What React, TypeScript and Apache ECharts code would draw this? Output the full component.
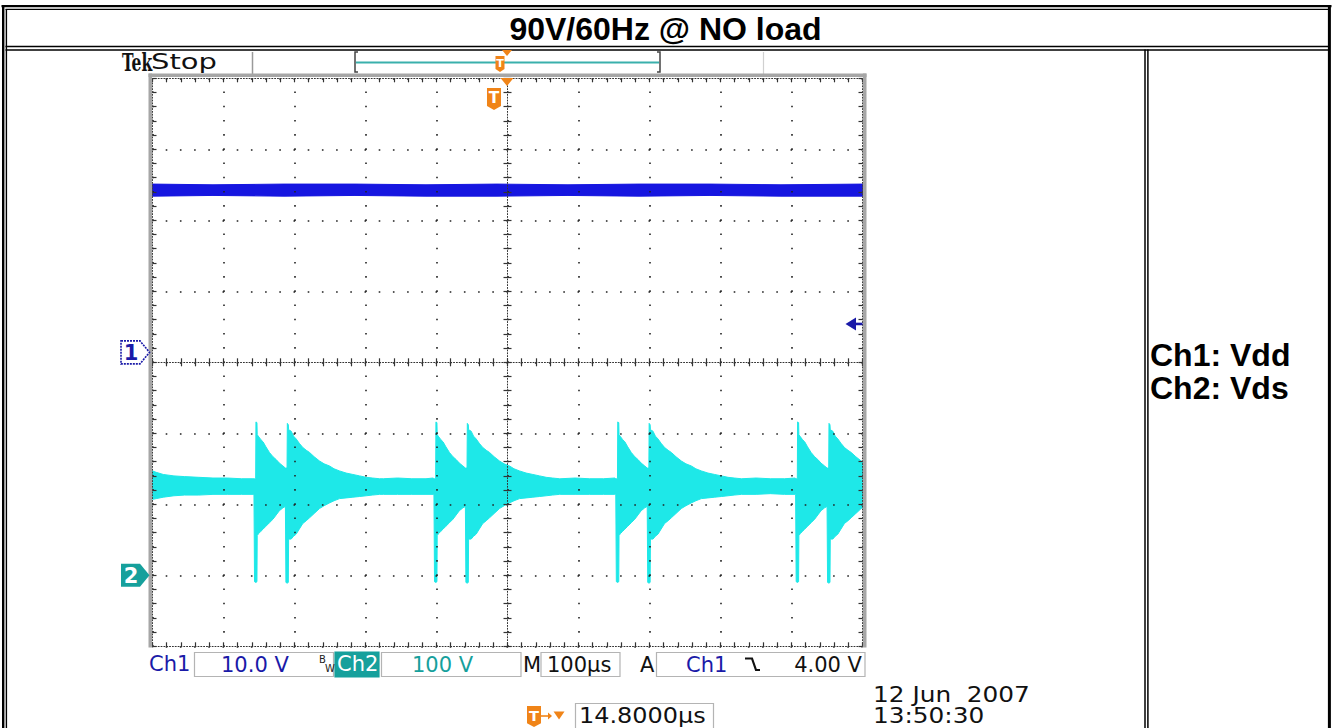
import React, { useEffect, useRef } from "react";
import * as echarts from "echarts";

// ---------------- scope settings ----------------
const TITLE = "90V/60Hz @ NO load";
const NOTE_LINES = ["Ch1: Vdd", "Ch2: Vds"];
const TIME_PER_DIV = 100; // µs / div
const TRIGGER_OFFSET = 14.8; // µs, trigger is left of screen centre
const CH1_V_PER_DIV = 10;
const CH2_V_PER_DIV = 100;
const CH1_GROUND_DIV = 4.14; // divisions above graticule bottom
const CH2_GROUND_DIV = 1.0;
const TRIGGER_LEVEL = 4.0; // V on Ch1

// ---------------- Ch1 (Vdd) min / max envelope ----------------
const ch1Time = [-485.2, -400, -300, -200, -100, 0, 100, 200, 300, 400, 514.8];
const ch1Max = [23.7, 23.6, 23.7, 23.7, 23.6, 23.7, 23.6, 23.7, 23.7, 23.6, 23.7];
const ch1Min = [22.0, 22.1, 22.0, 22.1, 22.0, 22.0, 22.1, 22.0, 22.1, 22.0, 22.0];

// ---------------- Ch2 (Vds) idle noise envelope ----------------
const ch2BaseTime = [-485.2, -480, -470, -455, -440, -420, -400, -380, -360, -345,
  -160, -140, -120, -100, -90, 90, 110, 130, 150, 166, 345, 365, 385, 405, 420];
const ch2BaseMax = [147, 145, 142, 140, 139, 138, 137, 137, 136, 136,
  136, 137, 136, 136, 137, 136, 137, 136, 136, 137, 136, 137, 136, 136, 137];
const ch2BaseMin = [107, 108, 110, 112, 113, 113, 114, 114, 114, 114,
  114, 114, 114, 114, 114, 114, 114, 114, 114, 114, 114, 114, 115, 114, 114];

// ---------------- Ch2 switching bursts ----------------
const burstStart = [-341.5, -88.0, 168.1, 421.4]; // µs, first turn-on of each pair
const burstRel = [-0.8, 0, 1.6, 2.0, 3.4, 3.8, 6, 9, 12, 16, 21, 26, 30.5, 35, 40, 43.5,
  44.2, 45.8, 46.2, 47.6, 48.0, 51.6, 55, 58.7, 63, 68, 73, 77.5, 84, 91.5, 98, 105.6,
  112, 119.7, 129, 138.5, 148, 157.3, 166, 176];
const burstMax = [136, 136, 136, 216, 215, 198, 195, 191, 188, 181, 173, 167, 163, 158, 154, 151,
  151, 151, 214, 212, 205, 203, 196, 192, 186, 180, 176, 173, 167, 161, 157, 154,
  150, 147, 144, 142, 140, 138, 137, 136];
const burstMin = [114, -9, -10, -10, -9, 56, 59, 62, 65, 69, 74, 79, 85, 91, 95, 97,
  -10, -11, -11, -10, 51, 51, 55, 58, 65, 73, 77, 81, 87, 94, 98, 102,
  105, 108, 109, 110, 111, 112, 113, 114];

// ---------------- layout ----------------
const W = 1333;
const H = 728;
const GL = 152.5;
const GT = 78.3;
const GW = 710;
const GH = 568;

const BLUE = "#1616e0";
const CYAN = "#1ee8e8";
const TEAL = "#16a09c";
const LBLUE = "#1a1aa8";
const ORANGE = "#f08418";
const FONT = '"DejaVu Sans", Verdana, sans-serif';
const ARIAL = '"Liberation Sans", Arial, sans-serif';

function buildCh1() {
  return ch1Time.map((t, i) => [t, ch1Max[i], ch1Min[i]]);
}

function buildCh2() {
  const pts: number[][] = [];
  const span = burstRel[burstRel.length - 1];
  ch2BaseTime.forEach((t, i) => {
    const inside = burstStart.some((s) => t >= s - 1 && t <= s + span);
    if (!inside) pts.push([t, ch2BaseMax[i], ch2BaseMin[i]]);
  });
  burstStart.forEach((s) => {
    burstRel.forEach((r, i) => pts.push([s + r, burstMax[i], burstMin[i]]));
  });
  pts.sort((a, b) => a[0] - b[0]);
  return pts;
}

function bandSeries(points: number[][], yAxisIndex: number, color: string) {
  return {
    type: "custom",
    xAxisIndex: 4,
    yAxisIndex,
    clip: true,
    silent: true,
    z: 2,
    data: points,
    renderItem: (params: any, api: any) => {
      if (params.dataIndex !== 0) return null;
      const upper = points.map((p) => api.coord([p[0], p[1]]));
      const lower = points
        .slice()
        .reverse()
        .map((p) => api.coord([p[0], p[2]]));
      return {
        type: "polygon",
        shape: { points: upper.concat(lower) },
        style: { fill: color, stroke: color, lineWidth: 1 },
      };
    },
  };
}

const GRAT = "#333";
const dotted = () => ({ color: GRAT, width: 1, type: [1, 1.84] as any });

function gratAxis(extra: any) {
  return {
    type: "value",
    min: 0,
    interval: 1,
    z: 5,
    axisLabel: { show: false },
    axisLine: { show: true, onZero: false, lineStyle: dotted() },
    axisTick: { show: true, inside: true, length: 4, lineStyle: { color: GRAT, width: 1.2 } },
    minorTick: { show: true, splitNumber: 5, length: 4, lineStyle: { color: GRAT, width: 1.2 } },
    splitLine: { show: false },
    ...extra,
  };
}

function txt(x: number, y: number, text: string, size: number, fill: string, opts: any = {}) {
  return {
    type: "text",
    x,
    y,
    z: 100,
    scaleX: opts.scaleX || 1,
    style: {
      text,
      fill,
      font: `${opts.weight || "normal"} ${size}px ${opts.family || FONT}`,
      align: opts.align || "left",
      verticalAlign: "middle",
    },
  };
}

function hline(x1: number, x2: number, y: number, w: number, color = "#000") {
  return { type: "line", z: 100, shape: { x1, y1: y, x2, y2: y }, style: { stroke: color, lineWidth: w } };
}
function vline(x: number, y1: number, y2: number, w: number, color = "#000") {
  return { type: "line", z: 100, shape: { x1: x, y1, x2: x, y2 }, style: { stroke: color, lineWidth: w } };
}
function box(x: number, y: number, w: number, h: number, fill = "#fff", stroke = "#b4b4b4") {
  return { type: "rect", z: 90, shape: { x, y, width: w, height: h }, style: { fill, stroke, lineWidth: 1.2 } };
}
function tBadge(cx: number, top: number, w: number, h: number) {
  const l = cx - w / 2;
  const r = cx + w / 2;
  return [
    {
      type: "polygon",
      z: 100,
      shape: { points: [[l, top], [r, top], [r, top + h * 0.82], [cx, top + h], [l, top + h * 0.82]] },
      style: { fill: ORANGE },
    },
    txt(cx, top + h * 0.45, "T", h * 0.7, "#fff", { weight: "bold", align: "center" }),
  ];
}
function downTri(cx: number, top: number, w: number, h: number) {
  return {
    type: "polygon",
    z: 100,
    shape: { points: [[cx - w / 2, top], [cx + w / 2, top], [cx, top + h]] },
    style: { fill: ORANGE },
  };
}

export default function App() {
  const ref = useRef<HTMLDivElement>(null);

  useEffect(() => {
    document.body.style.margin = "0";
    if (!ref.current) return;
    const chart = echarts.init(ref.current, null, { renderer: "svg" });

    const tMin = -TIME_PER_DIV * 5 + TRIGGER_OFFSET;
    const tMax = TIME_PER_DIV * 5 + TRIGGER_OFFSET;
    const ch1Min = -CH1_GROUND_DIV * CH1_V_PER_DIV;
    const ch1Max = (8 - CH1_GROUND_DIV) * CH1_V_PER_DIV;
    const ch2Min = -CH2_GROUND_DIV * CH2_V_PER_DIV;
    const ch2Max = (8 - CH2_GROUND_DIV) * CH2_V_PER_DIV;

    const divPx = GH / 8;
    const ch1GroundY = GT + GH - CH1_GROUND_DIV * divPx;
    const ch2GroundY = GT + GH - CH2_GROUND_DIV * divPx;
    const trigY = ch1GroundY - (TRIGGER_LEVEL / CH1_V_PER_DIV) * divPx;
    const centerX = GL + GW / 2;
    const trigX = centerX - (TRIGGER_OFFSET / TIME_PER_DIV) * (GW / 10);

    const gridDots = { show: true, lineStyle: { color: "#222", width: 1.6, type: [1.6, 12.6], dashOffset: 0.8 } };

    const graphic: any[] = [
      // ---- document table ----
      hline(1.5, 1331.5, 6.1, 2.4),
      hline(5.5, 1328, 9.4, 1.4),
      vline(3.2, 5, 728, 2.4),
      vline(6.4, 9, 728, 1.4),
      vline(1329.4, 5, 728, 3),
      hline(5.5, 1328, 46.4, 1.5),
      hline(5.5, 1328, 50.0, 1.5),
      vline(1145.0, 49.5, 728, 1.5),
      vline(1147.9, 49.5, 728, 1.5),
      txt(665.5, 29, TITLE, 32, "#000", { weight: "bold", family: ARIAL, align: "center" }),
      txt(1150, 354.5, NOTE_LINES[0], 32, "#000", { weight: "bold", family: ARIAL }),
      txt(1150, 387.5, NOTE_LINES[1], 32, "#000", { weight: "bold", family: ARIAL }),

      // ---- scope header ----
      txt(122, 62, "Tek", 24, "#111", { weight: "bold", family: '"DejaVu Serif Condensed", "DejaVu Serif", serif', scaleX: 0.72 }),
      txt(151, 61.5, "Stop", 21, "#111", { scaleX: 1.38 }),
      vline(252.5, 52, 74, 1.5, "#9a9a9a"),
      vline(763.5, 52, 74, 1.2, "#d0d0d0"),
      { type: "polyline", z: 100, shape: { points: [[358, 52], [355, 52], [355, 72], [358, 72]] }, style: { stroke: "#444", lineWidth: 1.5, fill: null } },
      { type: "polyline", z: 100, shape: { points: [[657, 52], [660, 52], [660, 72], [657, 72]] }, style: { stroke: "#444", lineWidth: 1.5, fill: null } },
      hline(356, 659, 62.5, 2, "#3ab0ac"),
      ...tBadge(trigX + 3, 56, 9, 16),
      downTri(centerX - 0.5, 50, 10, 6),

      // ---- graticule frame ----
      vline(150.3, 73.5, 647.5, 3.6, "#a6a6a6"),
      hline(148.5, 866.5, 75.2, 3.6, "#a6a6a6"),
      vline(864.7, 73.5, 647.5, 3.6, "#a6a6a6"),

      // ---- in-screen markers ----
      downTri(centerX - 0.5, 78, 13, 8),
      ...tBadge(trigX - 3, 88, 14, 22),
      {
        type: "polygon",
        z: 100,
        shape: { points: [[121, ch1GroundY - 11.5], [140, ch1GroundY - 11.5], [149.5, ch1GroundY], [140, ch1GroundY + 11.5], [121, ch1GroundY + 11.5]] },
        style: { fill: "#fff", stroke: LBLUE, lineWidth: 1.6, lineDash: [2, 1] },
      },
      txt(131, ch1GroundY + 0.5, "1", 21, LBLUE, { weight: "bold", align: "center" }),
      {
        type: "polygon",
        z: 100,
        shape: { points: [[121, ch2GroundY - 11.5], [140, ch2GroundY - 11.5], [149.5, ch2GroundY], [140, ch2GroundY + 11.5], [121, ch2GroundY + 11.5]] },
        style: { fill: TEAL },
      },
      txt(131, ch2GroundY + 0.5, "2", 21, "#fff", { weight: "bold", align: "center" }),
      {
        type: "polygon",
        z: 100,
        shape: { points: [[845.5, trigY], [856, trigY - 6.5], [856, trigY + 6.5]] },
        style: { fill: LBLUE },
      },
      hline(855, 862.5, trigY, 2.6, LBLUE),

      // ---- status line ----
      txt(149, 664, "Ch1", 21, LBLUE),
      box(194.5, 652.5, 139, 24),
      txt(221, 664.5, "10.0 V", 21, LBLUE),
      txt(319, 659, "B", 10, "#222"),
      txt(325, 668, "W", 10, "#222"),
      box(335, 652, 44, 25, TEAL, TEAL),
      txt(337, 664, "Ch2", 21, "#fff"),
      box(381.5, 652.5, 139.5, 24),
      txt(412, 664.5, "100 V", 21, TEAL),
      txt(523, 664.5, "M", 21, "#111"),
      box(541, 652.5, 79, 24),
      txt(547, 664.5, "100µs", 21, "#111"),
      txt(640, 664.5, "A", 21, "#111"),
      box(656.5, 652.5, 208.5, 24),
      txt(686, 664.5, "Ch1", 21, LBLUE),
      { type: "polyline", z: 100, shape: { points: [[745, 658.5], [752, 658.5], [756, 670], [760, 670]] }, style: { stroke: "#111", lineWidth: 2.2, fill: null } },
      txt(862, 664.5, "4.00 V", 21, "#111", { align: "right" }),

      ...tBadge(534, 706, 14, 21),
      hline(541, 551, 716, 1.6, ORANGE),
      { type: "polygon", z: 100, shape: { points: [[548, 712.5], [552, 716], [548, 719.5]] }, style: { fill: ORANGE } },
      downTri(559, 711.5, 11, 8),
      box(575.5, 703.5, 138, 26),
      txt(579, 715.5, "14.8000µs", 21, "#111", { scaleX: 1.14 }),
      txt(873, 694.5, "12 Jun  2007", 21, "#111", { scaleX: 1.18 }),
      txt(873, 715.5, "13:50:30", 21, "#111", { scaleX: 1.18 }),
    ];

    const ticksOut = { show: true, inside: false, length: 4, lineStyle: { color: GRAT, width: 1.2 } };

    const option: any = {
      animation: false,
      backgroundColor: "#ffffff",
      grid: { left: GL, top: GT, width: GW, height: GH, show: false },
      xAxis: [
        gratAxis({ position: "bottom", max: 10, splitLine: gridDots }),
        gratAxis({ position: "top", max: 10 }),
        gratAxis({ position: "bottom", max: 10, offset: -GH / 2 }),
        gratAxis({ position: "bottom", max: 10, offset: -GH / 2, axisLine: { show: false, onZero: false }, axisTick: ticksOut }),
        { type: "value", show: false, min: tMin, max: tMax },
      ],
      yAxis: [
        gratAxis({ position: "left", max: 8, splitLine: gridDots }),
        gratAxis({ position: "right", max: 8 }),
        gratAxis({ position: "left", max: 8, offset: -GW / 2 }),
        gratAxis({ position: "left", max: 8, offset: -GW / 2, axisLine: { show: false, onZero: false }, axisTick: ticksOut }),
        { type: "value", show: false, min: ch1Min, max: ch1Max },
        { type: "value", show: false, min: ch2Min, max: ch2Max },
      ],
      series: [bandSeries(buildCh1(), 4, BLUE), bandSeries(buildCh2(), 5, CYAN)],
      graphic,
    };
    chart.setOption(option);
    return () => chart.dispose();
  }, []);

  return <div ref={ref} style={{ width: W, height: H }} />;
}
